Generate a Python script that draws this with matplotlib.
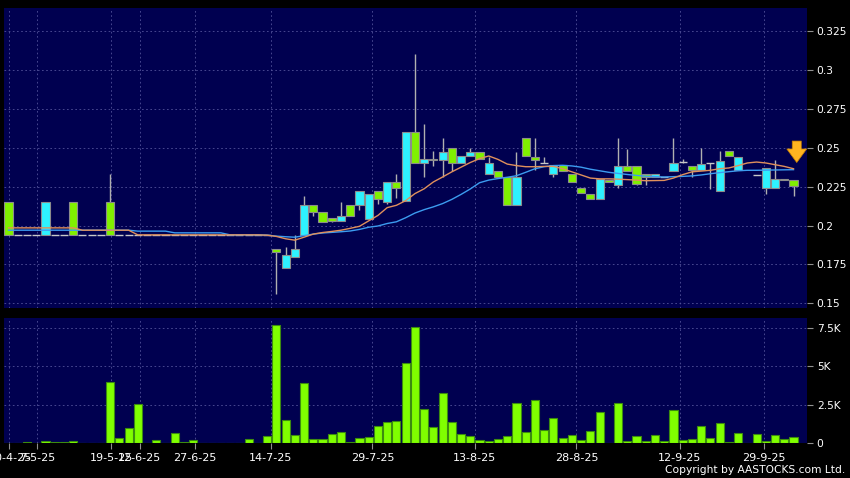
import matplotlib
matplotlib.use("Agg")
import matplotlib.pyplot as plt
import numpy as np
from matplotlib.ticker import FuncFormatter

nan = np.nan

# daily OHLC (index = trading day on chart)
opens = [0.215, 0.194, 0.194, 0.194, 0.194, 0.194, 0.194, 0.215, 0.194, 0.194,
         0.194, 0.215, 0.194, 0.194, 0.194, 0.194, 0.194, 0.194, 0.194, 0.194,
         0.194, 0.194, 0.194, 0.194, 0.194, 0.194, 0.194, 0.194, 0.194, 0.185,
         0.173, 0.180, 0.194, 0.213, 0.209, 0.205, 0.203, 0.213, 0.213, 0.204,
         0.222, 0.215, 0.228, 0.216, 0.260, 0.240, 0.243, 0.242, 0.250, 0.240,
         0.245, 0.247, 0.233, 0.235, 0.231, 0.213, 0.256, 0.244, 0.240, 0.233,
         0.239, 0.233, 0.224, 0.220, 0.217, 0.229, 0.226, 0.238, 0.238, 0.233,
         0.231, 0.231, 0.235, 0.241, 0.238, 0.236, 0.240, 0.222, 0.248, 0.236,
         nan, 0.2327, 0.224, 0.224, 0.230, 0.229]
highs = [0.215, 0.194, 0.194, 0.194, 0.215, 0.194, 0.194, 0.215, 0.194, 0.194,
         0.194, 0.233, 0.194, 0.194, 0.194, 0.194, 0.194, 0.194, 0.194, 0.194,
         0.194, 0.194, 0.194, 0.194, 0.194, 0.194, 0.194, 0.194, 0.194, 0.185,
         0.186, 0.194, 0.219, 0.213, 0.209, 0.205, 0.215, 0.213, 0.222, 0.220,
         0.222, 0.228, 0.233, 0.260, 0.310, 0.265, 0.248, 0.256, 0.250, 0.245,
         0.250, 0.247, 0.244, 0.235, 0.231, 0.247, 0.256, 0.256, 0.244, 0.239,
         0.239, 0.233, 0.224, 0.220, 0.230, 0.229, 0.256, 0.249, 0.238, 0.233,
         0.233, 0.231, 0.256, 0.2425, 0.238, 0.250, 0.240, 0.248, 0.248, 0.244,
         nan, 0.2327, 0.237, 0.242, 0.230, 0.229]
lows = [0.194, 0.194, 0.194, 0.194, 0.194, 0.194, 0.194, 0.194, 0.194, 0.194,
        0.194, 0.194, 0.194, 0.194, 0.194, 0.194, 0.194, 0.194, 0.194, 0.194,
        0.194, 0.194, 0.194, 0.194, 0.194, 0.194, 0.194, 0.194, 0.194, 0.156,
        0.173, 0.180, 0.194, 0.206, 0.202, 0.202, 0.203, 0.206, 0.210, 0.204,
        0.214, 0.214, 0.218, 0.216, 0.240, 0.231, 0.238, 0.231, 0.235, 0.240,
        0.245, 0.243, 0.233, 0.231, 0.213, 0.213, 0.245, 0.236, 0.240, 0.231,
        0.235, 0.228, 0.221, 0.217, 0.217, 0.228, 0.224, 0.235, 0.226, 0.226,
        0.231, 0.231, 0.235, 0.2405, 0.231, 0.236, 0.2235, 0.222, 0.245, 0.236,
        nan, 0.2327, 0.2205, 0.224, 0.229, 0.219]
closes = [0.194, 0.194, 0.194, 0.194, 0.215, 0.194, 0.194, 0.194, 0.194, 0.194,
          0.194, 0.194, 0.194, 0.194, 0.194, 0.194, 0.194, 0.194, 0.194, 0.194,
          0.194, 0.194, 0.194, 0.194, 0.194, 0.194, 0.194, 0.194, 0.194, 0.183,
          0.181, 0.185, 0.213, 0.209, 0.202, 0.203, 0.206, 0.206, 0.222, 0.220,
          0.217, 0.228, 0.224, 0.260, 0.240, 0.243, 0.242, 0.247, 0.240, 0.245,
          0.247, 0.243, 0.240, 0.231, 0.213, 0.231, 0.245, 0.242, 0.240, 0.239,
          0.235, 0.228, 0.221, 0.217, 0.230, 0.228, 0.238, 0.235, 0.227, 0.231,
          0.233, 0.231, 0.240, 0.241, 0.236, 0.2395, 0.240, 0.2415, 0.245, 0.244,
          nan, 0.2327, 0.237, 0.230, 0.229, 0.2255]
volumes = [0, 0, 70, 0, 110, 60, 60, 150, 0, 0,
           0, 3980, 330, 1000, 2550, 0, 170, 0, 630, 60,
           170, 0, 0, 20, 0, 30, 260, 20, 460, 7700,
           1480, 520, 3900, 260, 260, 570, 720, 65, 300, 390,
           1130, 1370, 1415, 5200, 7550, 2230, 1020, 3265, 1390, 565,
           460, 220, 110, 260, 435, 2610, 720, 2810, 870, 1610,
           330, 520, 220, 760, 2000, 10, 2635, 130, 435, 130,
           545, 130, 2135, 200, 240, 1110, 330, 1305, 65, 650,
           0, 610, 110, 545, 240, 415]
# moving averages
ma_fast = [0.1985] * 8 + [0.197] * 6 + [0.194] * 14 + [
    0.1938, 0.193, 0.1915, 0.1906, 0.1925, 0.1945, 0.1955, 0.1962, 0.197, 0.1982,
    0.1995, 0.203, 0.2065, 0.2115, 0.213, 0.216, 0.2205, 0.2236, 0.228, 0.2312,
    0.2345, 0.2375, 0.2405, 0.243, 0.2447, 0.2425, 0.2395, 0.2385, 0.2378, 0.2378,
    0.238, 0.238, 0.2365, 0.2345, 0.2325, 0.2305, 0.23, 0.23, 0.2298, 0.2295,
    0.2292, 0.2288, 0.2289, 0.229, 0.2305, 0.2327, 0.2345, 0.235, 0.2355, 0.2365,
    0.237, 0.2385, 0.2402, 0.2408, 0.2402, 0.2391, 0.238, 0.2365]
ma_slow = [0.197] * 14 + [0.1964] * 4 + [0.1953] * 6 + [0.194] * 4 + [
    0.1938, 0.1932, 0.1928, 0.1925, 0.1935, 0.1945, 0.1952, 0.1956, 0.196, 0.1965,
    0.1975, 0.1989, 0.1997, 0.2013, 0.2024, 0.205, 0.208, 0.2102, 0.212, 0.2141,
    0.2168, 0.22, 0.2235, 0.2275, 0.2292, 0.2302, 0.231, 0.232, 0.2342, 0.2365,
    0.2378, 0.2385, 0.2387, 0.2383, 0.2375, 0.2362, 0.2352, 0.2342, 0.2335, 0.2328,
    0.2322, 0.2317, 0.2314, 0.2312, 0.2314, 0.2316, 0.2319, 0.2325, 0.2333, 0.234,
    0.2346, 0.2352, 0.2355, 0.2355, 0.2356, 0.2357, 0.2358, 0.2359]

date_labels = ["30-4-25", "7-5-25", "19-5-25", "12-6-25", "27-6-25", "14-7-25",
               "29-7-25", "13-8-25", "28-8-25", "12-9-25", "29-9-25"]
date_idx = [0.1, 3.1, 11.1, 14.2, 20.2, 28.4, 39.4, 50.5, 61.5, 72.7, 81.8]
price_ticks = [0.15, 0.175, 0.2, 0.225, 0.25, 0.275, 0.3, 0.325]
vol_ticks = [0, 2500, 5000, 7500]

BG = '#000050'
GRID = '#52529a'

fig = plt.figure(figsize=(8.5, 4.78), dpi=100, facecolor='black')
ax = fig.add_axes([4/850, 1-308/478, 803/850, 300/478], facecolor=BG)
axv = fig.add_axes([4/850, 1-443/478, 803/850, 125/478], facecolor=BG, sharex=ax)

x = np.arange(len(closes))
o = np.array(opens); h = np.array(highs); l = np.array(lows); c = np.array(closes)
up = c > o
dn = c < o
flat = c == o
w = 0.88

ax.vlines(x, l, h, color='#b0b0b0', lw=1, zorder=2)
ax.bar(x[up], (c - o)[up], bottom=o[up], width=w, color='#2ef2ff',
       edgecolor='#8c8c8c', lw=0.8, zorder=3)
ax.bar(x[dn], (o - c)[dn], bottom=c[dn], width=w, color='#80f000',
       edgecolor='#8c8c8c', lw=0.8, zorder=3)
ax.hlines(c[flat], x[flat] - w/2, x[flat] + w/2, color='#c8c8c8', lw=1, zorder=3)

ax.plot(x, ma_slow, color='#3c9cf0', lw=1, zorder=4)
ax.plot(x, ma_fast, color='#e0905c', lw=1, zorder=4)

# arrow over last bar
ax.annotate('', xy=(x[-1] + 0.35, ma_fast[-1] + 0.004),
            xytext=(x[-1] + 0.35, ma_fast[-1] + 0.0178),
            arrowprops=dict(arrowstyle='simple,head_length=0.75,head_width=1.1,tail_width=0.5',
                            fc='#ffb420', ec='#c88000', lw=0.5, shrinkA=0, shrinkB=0,
                            mutation_scale=13),
            annotation_clip=False, zorder=6)

axv.bar(x, volumes, width=w, color='#80ff00', edgecolor='#3c8c10', lw=0.8, zorder=3)

ax.set_xlim(-0.49, 86.46)
ax.set_ylim(0.147, 0.3398)
axv.set_ylim(0, 8150)

for a in (ax, axv):
    for s in a.spines.values():
        s.set_visible(False)
    a.yaxis.tick_right()
    a.grid(True, color=GRID, ls=(0, (2, 3)), lw=0.6, zorder=0)
    a.set_axisbelow(True)
    a.tick_params(axis='y', colors='#909090', labelcolor='white', length=4,
                  labelsize=7.7, pad=3)

ax.set_yticks(price_ticks)
ax.yaxis.set_major_formatter(FuncFormatter(lambda v, p: '{:g}'.format(round(v, 3))))
ax.tick_params(axis='x', length=0, labelbottom=False)

axv.set_yticks(vol_ticks)
axv.yaxis.set_major_formatter(FuncFormatter(lambda v, p: '0' if v == 0 else '{:g}K'.format(v / 1000)))
axv.set_xticks(date_idx)
axv.set_xticklabels(date_labels)
axv.tick_params(axis='x', colors='#909090', labelcolor='white', length=4,
                labelsize=8, pad=3)

fig.text(845/850, 1 - 470/478, 'Copyright by AASTOCKS.com Ltd.', ha='right',
         va='center', color='white', fontsize=7.7)

fig.savefig('out.png', dpi=100, facecolor='black')
